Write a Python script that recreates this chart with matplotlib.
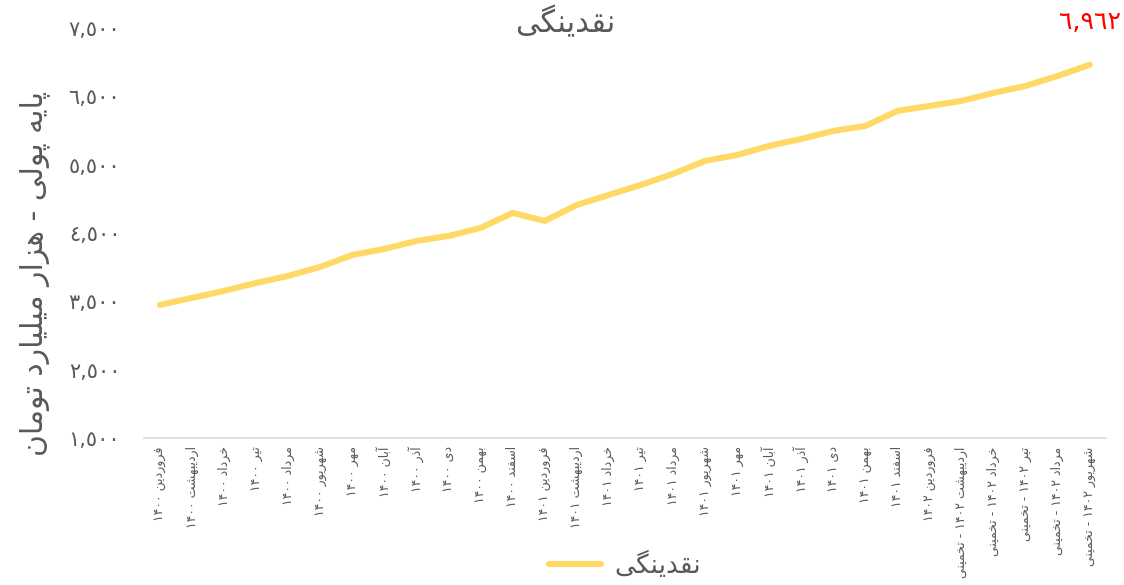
import re
import matplotlib
matplotlib.use('Agg')
import matplotlib.pyplot as plt
from matplotlib.ticker import FixedLocator, FuncFormatter

# --- data -------------------------------------------------------------
months = ['فروردین', 'اردیبهشت', 'خرداد', 'تیر', 'مرداد', 'شهریور',
          'مهر', 'آبان', 'آذر', 'دی', 'بهمن', 'اسفند']
years = ['۱۴۰۰'] * 12 + ['۱۴۰۱'] * 12 + ['۱۴۰۲'] * 6
estimated = [False] * 25 + [True] * 5
liquidity = [3447, 3549, 3652, 3769, 3871, 4003, 4178, 4266, 4383, 4456,
             4574, 4793, 4676, 4910, 5057, 5203, 5364, 5554, 5642, 5774,
             5876, 5993, 6066, 6286, 6359, 6432, 6549, 6652, 6798, 6962]
y_ticks = [1500, 2500, 3500, 4500, 5500, 6500, 7500]
title = 'نقدینگی'
y_label = 'پایه پولی - هزار میلیارد تومان'
est_word = 'تخمینی'

# --- minimal persian shaping + rtl ordering ---------------------------
FORMS = {
    'ا': ('\uFE8D', '\uFE8E', None, None),
    'آ': ('\uFE81', '\uFE82', None, None),
    'ب': ('\uFE8F', '\uFE90', '\uFE91', '\uFE92'),
    'پ': ('\uFB56', '\uFB57', '\uFB58', '\uFB59'),
    'ت': ('\uFE95', '\uFE96', '\uFE97', '\uFE98'),
    'خ': ('\uFEA5', '\uFEA6', '\uFEA7', '\uFEA8'),
    'د': ('\uFEA9', '\uFEAA', None, None),
    'ذ': ('\uFEAB', '\uFEAC', None, None),
    'ر': ('\uFEAD', '\uFEAE', None, None),
    'ز': ('\uFEAF', '\uFEB0', None, None),
    'س': ('\uFEB1', '\uFEB2', '\uFEB3', '\uFEB4'),
    'ش': ('\uFEB5', '\uFEB6', '\uFEB7', '\uFEB8'),
    'ف': ('\uFED1', '\uFED2', '\uFED3', '\uFED4'),
    'ق': ('\uFED5', '\uFED6', '\uFED7', '\uFED8'),
    'گ': ('\uFB92', '\uFB93', '\uFB94', '\uFB95'),
    'ل': ('\uFEDD', '\uFEDE', '\uFEDF', '\uFEE0'),
    'م': ('\uFEE1', '\uFEE2', '\uFEE3', '\uFEE4'),
    'ن': ('\uFEE5', '\uFEE6', '\uFEE7', '\uFEE8'),
    'و': ('\uFEED', '\uFEEE', None, None),
    'ه': ('\uFEE9', '\uFEEA', '\uFEEB', '\uFEEC'),
    'ی': ('\uFBFC', '\uFBFD', '\uFBFE', '\uFBFF'),
}
DIG = '0-9\u0660-\u0669\u06F0-\u06F9'


def shape(s):
    out = []
    for i, ch in enumerate(s):
        if ch not in FORMS:
            out.append(ch)
            continue
        f = FORMS[ch]
        prev = s[i - 1] if i > 0 else None
        nxt = s[i + 1] if i < len(s) - 1 else None
        jp = prev in FORMS and FORMS[prev][2] is not None
        jn = f[2] is not None and nxt in FORMS
        if jp and jn:
            out.append(f[3])
        elif jp:
            out.append(f[1])
        elif jn:
            out.append(f[2])
        else:
            out.append(f[0])
    return ''.join(out)


def fa(s):
    s = shape(s)
    parts = re.findall('[%s,]+|[^%s,]+' % (DIG, DIG), s)
    return ''.join(p if re.match('[%s]' % DIG, p) else p[::-1]
                   for p in reversed(parts))


def ar_num(v):
    return format(int(v), ',').translate(str.maketrans('0123456789', '٠١٢٣٤٥٦٧٨٩'))


labels = []
for i in range(len(liquidity)):
    t = months[i % 12] + ' ' + years[i]
    if estimated[i]:
        t += ' - ' + est_word
    labels.append(fa(t))

# --- plot -------------------------------------------------------------
plt.rcParams['font.family'] = ['DejaVu Sans']
grey = '#595959'
yellow = '#FFD966'

fig = plt.figure(figsize=(11.24, 5.85), dpi=100)
ax = fig.add_axes([0.128, 0.2513, 0.856, 0.701])

x = list(range(len(liquidity)))
ax.plot(x, liquidity, color=yellow, lw=4.4, solid_capstyle='round',
        solid_joinstyle='round', label=fa(title))

ax.set_xlim(-0.5, len(liquidity) - 0.5)
ax.set_ylim(y_ticks[0], y_ticks[-1])
ax.yaxis.set_major_locator(FixedLocator(y_ticks))
ax.yaxis.set_major_formatter(FuncFormatter(lambda v, p: ar_num(v)))
ax.set_xticks(x)
ax.set_xticklabels(labels, rotation=90, fontsize=9, color=grey)
ax.tick_params(axis='y', length=0, pad=17, labelsize=15, labelcolor=grey)
ax.tick_params(axis='x', length=0, pad=6)

for s in ['top', 'right', 'left']:
    ax.spines[s].set_visible(False)
ax.spines['bottom'].set_color('#D9D9D9')
ax.spines['bottom'].set_linewidth(1.2)

fig.text(35 / 1124, 1 - 273 / 585, fa(y_label), rotation=90, ha='center',
         va='center', fontsize=21.5, color=grey)

fig.text(0.503, 0.962, fa(title), ha='center', va='center', fontsize=22, color=grey)
fig.text(0.997, 0.962, ar_num(liquidity[-1]), ha='right', va='center',
         fontsize=18, color='red')

fig.legend(loc='center', bbox_to_anchor=(0.556, 0.033), frameon=False,
           fontsize=19, labelcolor=grey, handlelength=2.0, handletextpad=0.5)

fig.savefig('out.png', dpi=100)
